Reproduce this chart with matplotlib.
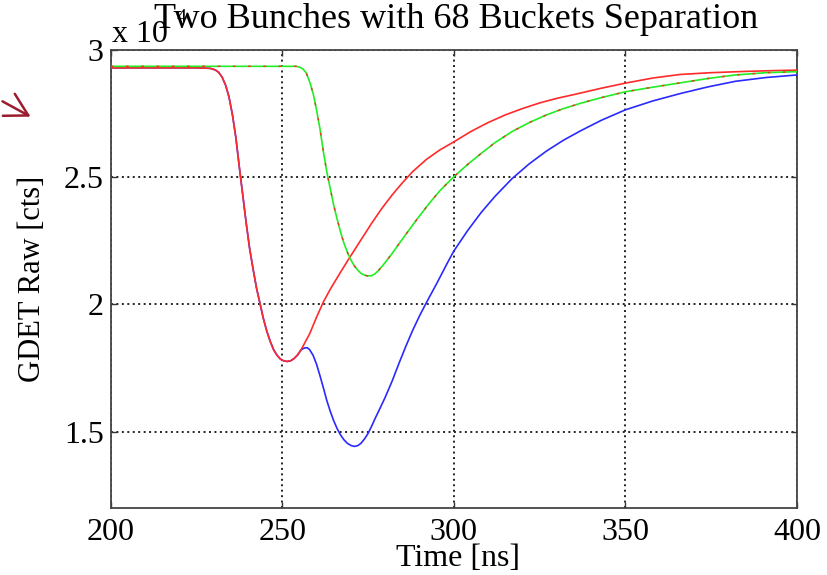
import matplotlib
matplotlib.use('Agg')
import matplotlib.pyplot as plt
import numpy as np

# bunch 1 (red), time in ns, signal in units of 1e4 counts
t_red = [200, 225, 229, 230.5, 231.5, 232.5, 233.5, 234.5, 235.5, 236.5,
         237.5, 238.5, 239.5, 240.5, 241.5, 242.5, 243.5, 244.5, 245.5,
         246.5, 247.5, 248.5, 249.5, 250.5, 251.5, 252.5, 253.5, 254.5,
         255.5, 258, 260, 262, 264, 267, 270, 273, 276, 279, 282, 285, 288,
         292, 296, 300, 305, 310, 315, 320, 325, 330, 336, 343, 350, 358,
         366, 375, 385, 393, 400]
g_red = [2.930, 2.930, 2.928, 2.922, 2.912, 2.893, 2.862, 2.815, 2.745,
         2.655, 2.54, 2.43, 2.32, 2.22, 2.14, 2.065, 2.005, 1.945, 1.895,
         1.855, 1.822, 1.800, 1.785, 1.778, 1.776, 1.779, 1.788, 1.802,
         1.822, 1.885, 1.95, 2.01, 2.06, 2.127, 2.192, 2.255, 2.318, 2.377,
         2.43, 2.478, 2.522, 2.57, 2.608, 2.639, 2.68, 2.715, 2.745, 2.77,
         2.792, 2.81, 2.828, 2.85, 2.87, 2.89, 2.904, 2.911, 2.916, 2.919,
         2.921]

# both bunches together (blue)
t_blue = [200, 225, 229, 230.5, 231.5, 232.5, 233.5, 234.5, 235.5, 236.5,
          237.5, 238.5, 239.5, 240.5, 241.5, 242.5, 243.5, 244.5, 245.5,
          246.5, 247.5, 248.5, 249.5, 250.5, 251.5, 252.5, 253.5, 254.5,
          255.5, 256.5, 257.3, 258, 259, 260, 261, 262, 263, 264, 265, 266,
          267, 268, 269, 270, 271, 272, 273, 274, 275, 276, 277, 278, 280,
          282, 284, 286, 288, 290, 292, 295, 298, 300, 304, 308, 312, 317,
          322, 327, 332, 337, 343, 350, 358, 366, 374, 382, 391, 400]
g_blue = [2.930, 2.930, 2.928, 2.922, 2.912, 2.893, 2.862, 2.815, 2.745,
          2.655, 2.54, 2.43, 2.32, 2.22, 2.14, 2.065, 2.005, 1.945, 1.895,
          1.855, 1.822, 1.800, 1.785, 1.778, 1.776, 1.779, 1.788, 1.802,
          1.822, 1.829, 1.830, 1.822, 1.800, 1.765, 1.720, 1.672, 1.622,
          1.580, 1.543, 1.512, 1.487, 1.468, 1.454, 1.446, 1.442, 1.445,
          1.455, 1.472, 1.493, 1.52, 1.55, 1.578, 1.635, 1.698, 1.768, 1.835,
          1.898, 1.955, 2.007, 2.082, 2.16, 2.21, 2.29, 2.362, 2.425, 2.495,
          2.553, 2.603, 2.646, 2.683, 2.724, 2.765, 2.80, 2.829, 2.855,
          2.877, 2.892, 2.902]

# bunch 2 (green)
t_green = [200, 254, 255, 256, 257, 258, 259, 260, 261, 262, 263, 264, 265,
           266, 267, 268, 269, 270, 271, 272, 273, 274, 275, 276, 277, 278,
           279, 280, 282, 284, 286, 288, 290, 293, 296, 300, 304, 308, 312,
           317, 322, 327, 332, 337, 343, 350, 358, 366, 374, 382, 391, 400]
g_green = [2.936, 2.936, 2.933, 2.926, 2.91, 2.875, 2.83, 2.765, 2.69, 2.60,
           2.52, 2.455, 2.39, 2.335, 2.285, 2.24, 2.205, 2.175, 2.152, 2.135,
           2.122, 2.115, 2.112, 2.113, 2.12, 2.133, 2.148, 2.165, 2.20, 2.238,
           2.275, 2.312, 2.348, 2.40, 2.448, 2.502, 2.55, 2.594, 2.636, 2.68,
           2.715, 2.745, 2.77, 2.791, 2.813, 2.836, 2.854, 2.871, 2.888, 2.902,
           2.911, 2.915]

x_ticks = [200, 250, 300, 350, 400]
y_ticks = [1.5, 2, 2.5, 3]
y_labels = ['1.5', '2', '2.5', '3']

plt.rcParams['font.family'] = ['Liberation Serif', 'DejaVu Serif']

fig = plt.figure(figsize=(8.28, 5.75), dpi=100)
ax = fig.add_axes([0.1336, 0.1165, 0.829, 0.7965])

ax.plot(t_blue, g_blue, color='#2a2aff', lw=1.2, zorder=3)
ax.plot(t_red, g_red, color='#ff2a2a', lw=1.2, zorder=4)
ax.plot(t_green, g_green, color='#22ee22', lw=1.2, zorder=5)
ax.plot(t_green, g_green, color='#ee3322', lw=1.0, ls=(0, (2, 9)), zorder=6)

ax.set_xlim(200, 400)
ax.set_ylim(1.2, 3.0)
ax.set_xticks(x_ticks)
ax.set_yticks(y_ticks)
ax.set_yticklabels(y_labels)
ax.tick_params(direction='in', length=4, width=1, top=True, right=True,
               labelsize=23, pad=5, color='#333333')
ax.tick_params(axis='x', pad=7)
ax.grid(True, color='#222222', lw=1.4, ls=(0, (1, 1.8)))
for s in ax.spines.values():
    s.set_color('#444444')
    s.set_linewidth(1.3)

fig.text(458 / 828, 1 - 558 / 575, 'Time [ns]', fontsize=23,
         ha='center', va='center')
fig.text(33 / 828, 1 - 279 / 575, 'GDET Raw [cts]', fontsize=22,
         ha='center', va='center', rotation=90)
fig.text(456 / 828, 1 - 19 / 575, 'Two Bunches with 68 Buckets Separation',
         fontsize=26, ha='center', va='center')

# exponent of the y axis, MATLAB style
fig.text(112 / 828, 1 - 34 / 575, 'x 10', fontsize=23, va='center', ha='left')
fig.text(177 / 828, 1 - 18 / 575, '4', fontsize=14, va='center', ha='left')

# pointer on the left margin
ax.annotate('', xy=(33 / 828, 1 - 118 / 575), xytext=(0, 1 - 100 / 575),
            xycoords='figure fraction', textcoords='figure fraction',
            arrowprops=dict(arrowstyle='->,head_length=0.8,head_width=0.45',
                            color='#9a1c2e', lw=1.8, mutation_scale=20))

fig.savefig('out.png', dpi=100, facecolor='white')
